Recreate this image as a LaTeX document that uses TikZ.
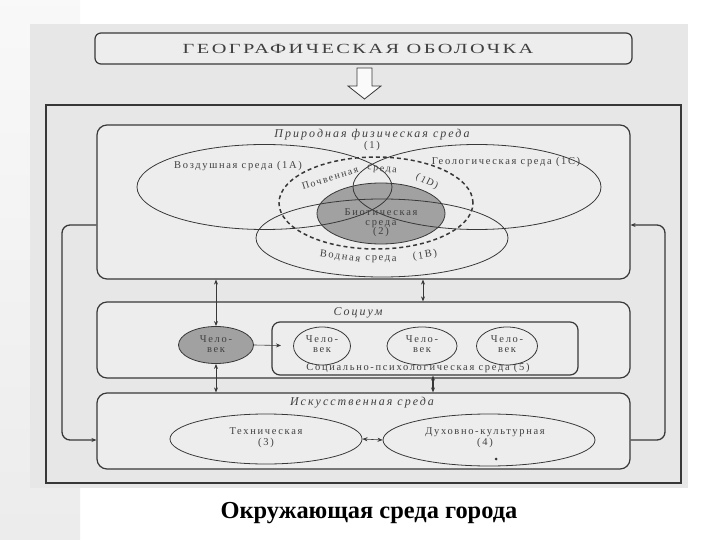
\documentclass[tikz,border=0pt]{standalone}
\usepackage{fontspec}
\setmainfont{Liberation Serif}
\newfontfamily\dgfont[LetterSpace=16]{Liberation Serif}
\newfontfamily\itfont[LetterSpace=17]{Liberation Serif}
\newfontfamily\ttlfont[LetterSpace=12]{Liberation Serif}
\usetikzlibrary{shapes.geometric,arrows.meta,calc}
\definecolor{scanbg}{gray}{0.905}
\definecolor{boxbg}{gray}{0.93}
\definecolor{ink}{gray}{0.22}
\definecolor{txt}{gray}{0.25}
\definecolor{bioc}{gray}{0.63}
\begin{document}
\begin{tikzpicture}[x=1bp,y=-1bp,
  rbox/.style={draw=ink, line width=1.2bp, rounded corners=10bp, fill=boxbg, inner sep=0pt},
  ell/.style={ellipse, draw=ink, line width=0.8bp, inner sep=0pt},
  lbl/.style={font=\dgfont\fontsize{10.5}{11}\selectfont, text=txt, align=center, inner sep=0pt},
  slbl/.style={font=\dgfont\fontsize{10}{11}\selectfont, text=txt, inner sep=0pt},
  ital/.style={font=\itfont\itshape\fontsize{12}{13}\selectfont, text=txt, inner sep=0pt},
  conn/.style={draw=ink, line width=0.9bp},
  tip/.style={-{Stealth[length=5bp,width=4bp]}},
  dtip/.style={{Stealth[length=5bp,width=4bp]}-{Stealth[length=5bp,width=4bp]}}
]
% background
\fill[white] (0,0) rectangle (720,540);
\useasboundingbox (0,0) rectangle (720,540);
\shade[top color=gray!5, bottom color=gray!15] (0,0) rectangle (80,540);
\fill[scanbg] (30,24) rectangle (688,488);

% title box
\node[rbox, rounded corners=6bp, minimum width=537bp, minimum height=31bp] (top) at (363.5,48.5) {};
\node[font=\ttlfont\fontsize{14}{16}\selectfont, text=txt] (ttl) at (358,48.5) {\scalebox{1.46}[1]{ГЕОГРАФИЧЕСКАЯ ОБОЛОЧКА}};

% hollow arrow
\draw[draw=ink, line width=0.8bp, fill=gray!4] (357,68) -- (372,68) -- (372,86) -- (381,86) -- (364.5,99) -- (348,86) -- (357,86) -- cycle;

% outer frame
\draw[draw=ink, line width=1.4bp] (46,105) rectangle (681,483);

% main boxes
\node[rbox, minimum width=533bp, minimum height=154bp] (b1) at (363.5,202) {};
\node[rbox, minimum width=533bp, minimum height=76bp] (soc) at (363.5,340) {};
\node[rbox, minimum width=533bp, minimum height=76bp] (art) at (363.5,431) {};

% natural environment
\node[ellipse, fill=bioc, inner sep=0pt, minimum width=128bp, minimum height=61bp] (biof) at (381,213.5) {};
\node[ell, minimum width=255bp, minimum height=85bp] (air) at (264.5,187) {};
\node[ell, minimum width=248bp, minimum height=85bp] (geo) at (477,187) {};
\node[ell, minimum width=252bp, minimum height=78bp] (water) at (382,238) {};
\node[ell, dash pattern=on 4bp off 3bp, line width=1.5bp, minimum width=194bp, minimum height=92bp] (soil) at (376,203) {};
\node[ell, minimum width=128bp, minimum height=61bp] (bio) at (381,213.5) {};

\node[ital] (t1) at (372,135) {Природная физическая среда};
\node[lbl] (t1n) at (372,146) {(1)};
\node[lbl] (airl) at (238,166) {Воздушная среда (1А)};
\node[lbl] (geol) at (506,162) {Геологическая среда (1С)};
\node[lbl, align=center] (biol) at (381,223) {Биотическая\\[-1.5bp]среда\\[-1.5bp](2)};
\node[slbl, rotate=17] (s1) at (330,178) {Почвенная};
\node[slbl, rotate=-5] (s2) at (382,170) {среда};
\node[slbl, rotate=-27] (s3) at (427,182) {(1D)};
\node[lbl, rotate=-8] (w1) at (340,257) {Водная};
\node[lbl, rotate=-1] (w2) at (381,259.5) {среда};
\node[lbl, rotate=9] (w3) at (425,255.5) {(1В)};

% socium
\node[ital] (sl) at (358,313) {Социум};
\node[draw=ink, line width=1.2bp, rounded corners=8bp, inner sep=0pt, minimum width=306bp, minimum height=53bp] (inner) at (425,348.5) {};
\node[ell, fill=bioc, minimum width=75bp, minimum height=37bp] (chel) at (216,345) {};
\node[lbl] (chell) at (216,344) {Чело-\\[-1.5bp]век};
\node[ell, minimum width=57bp, minimum height=38bp] (p1) at (322,346) {};
\node[ell, minimum width=70bp, minimum height=38bp] (p2) at (422,346) {};
\node[ell, minimum width=61bp, minimum height=38bp] (p3) at (507,346) {};
\node[lbl] (p1l) at (322,344) {Чело-\\[-1.5bp]век};
\node[lbl] (p2l) at (422,344) {Чело-\\[-1.5bp]век};
\node[lbl] (p3l) at (507,344) {Чело-\\[-1.5bp]век};
\node[lbl] (innl) at (418,368) {Социально-психологическая среда (5)};
\coordinate (ain) at (281,345.5);
\draw[conn, line width=0.6bp, tip] (chel.east) -- (ain);

% artificial
\node[ital] (al) at (362,403) {Искусственная среда};
\node[ell, minimum width=192bp, minimum height=50bp] (tech) at (266,439) {};
\node[ell, minimum width=212bp, minimum height=52bp] (dukh) at (489,440) {};
\node[lbl] (techl) at (266,438) {Техническая\\(3)};
\node[lbl] (dukhl) at (485,438) {Духовно-культурная\\(4)};
\fill[ink] (496,459) circle (1.5bp);
\draw[conn, line width=0.6bp, dtip] (tech.east) -- (dukh.west);

% vertical connectors
\coordinate (xr1) at (423,0);
\coordinate (xr2) at (433,0);
\draw[conn, dtip] (chel.north |- b1.south) -- (chel.north);
\draw[conn, dtip] (xr1 |- b1.south) -- (xr1 |- soc.north);
\draw[conn, dtip] (chel.south) -- (chel.south |- art.north);
\draw[conn, line width=1.3bp, dtip] (xr2 |- inner.south) -- (xr2 |- art.north);

% side loops
\coordinate (lx) at (62,330);
\coordinate (rx) at (665,330);
\draw[conn, line width=1.3bp, tip, rounded corners=8bp] ($(b1.west)+(0,23)$) -| (lx) |- ($(art.west)+(0,9)$);
\draw[conn, line width=1.3bp, tip, rounded corners=8bp] ($(art.east)+(0,9)$) -| (rx) |- ($(b1.east)+(0,23)$);

% caption
\node[font=\bfseries\fontsize{24.5}{26}\selectfont, inner sep=0pt, anchor=base] (cap) at (369,518) {Окружающая среда города};
\end{tikzpicture}
\end{document}
